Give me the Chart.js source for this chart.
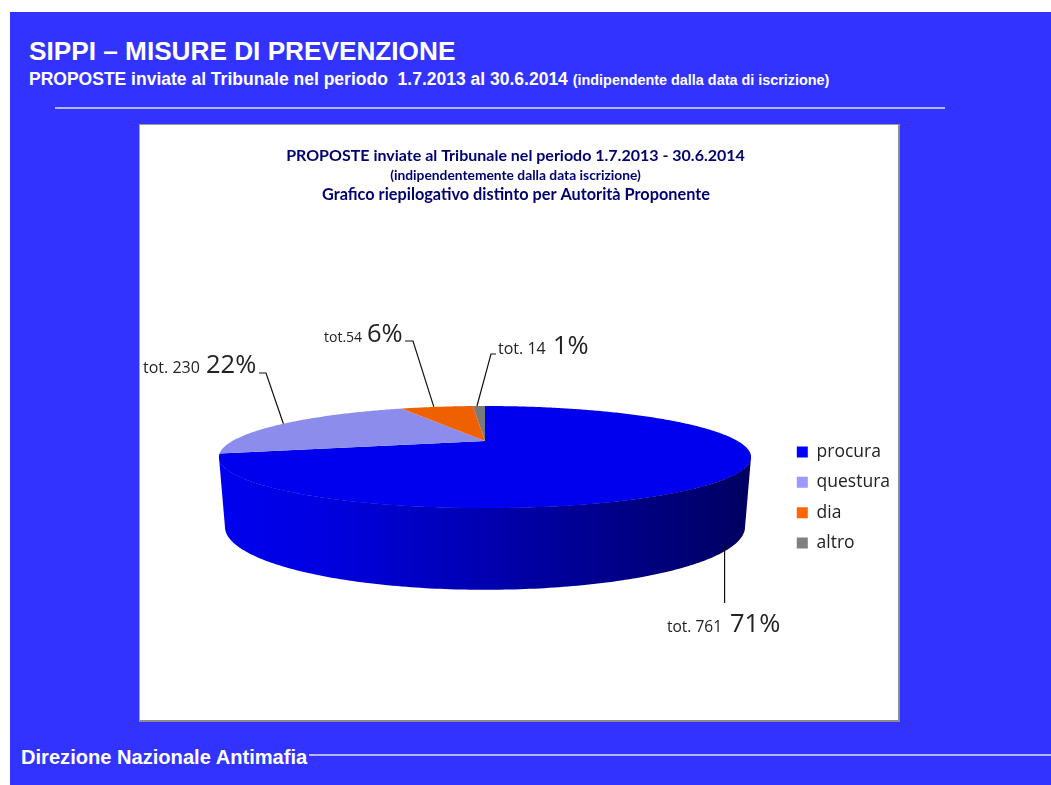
<!DOCTYPE html>
<html lang="it">
<head>
<meta charset="utf-8">
<title>SIPPI – Misure di prevenzione</title>
<script src="https://cdn.jsdelivr.net/npm/chart.js@4/dist/chart.umd.min.js"></script>
<style>
html,body{margin:0;padding:0;background:#fff;width:1051px;height:785px;overflow:hidden}
#slide{position:absolute;left:10px;top:12px;width:1041px;height:773px;background:#3333ff}
.t{position:absolute;color:#fff;font-family:"Liberation Sans",Arial,sans-serif;font-weight:bold;white-space:pre;line-height:1}
.rule{position:absolute;height:2px;background:#b4b4ff}
#panel{position:absolute;left:139px;top:124px;width:758px;height:595px;background:#fff;border:solid #8c8c8c;border-width:1px 2px 2px 1px;border-top-color:#999;border-left-color:#aaa}
canvas{position:absolute;left:0;top:0}
</style>
</head>
<body>
<div id="slide"></div>
<div class="t" style="left:29px;top:38px;font-size:26.2px">SIPPI – MISURE DI PREVENZIONE</div>
<div class="t" style="left:29px;top:71px;font-size:17.5px">PROPOSTE inviate al Tribunale nel periodo  1.7.2013 al 30.6.2014 <span style="font-size:14.4px">(indipendente dalla data di iscrizione)</span></div>
<div class="rule" style="left:55px;top:107px;width:890px"></div>
<div id="panel"></div>
<div class="t" style="left:21px;top:747px;font-size:20.1px">Direzione Nazionale Antimafia</div>
<div class="rule" style="left:309px;top:754px;width:742px"></div>
<canvas id="c" width="1051" height="785"></canvas>
<script>
const categories = ["procura", "questura", "dia", "altro"];
const shares = [71, 22, 6, 1];
const totals = ["tot. 761", "tot. 230", "tot.54", "tot. 14"];
const shareLabels = ["71%", "22%", "6%", "1%"];
const legendColors = ["#0000ff", "#9999ff", "#ff6600", "#808080"];
const faceColors = ["#0000ee", "#8c8cec", "#ee6000", "#7a7a7a"];
const titleLine1 = "PROPOSTE inviate al Tribunale nel periodo 1.7.2013 - 30.6.2014";
const titleLine2 = "(indipendentemente dalla data iscrizione)";
const titleLine3 = "Grafico riepilogativo distinto per Autorità Proponente";

// perspective of the pie (style only): top and bottom planes
const P = {cx:485, p:0.314, top:{R:252.6, K:46, y:441}, bot:{R:246.9, K:56.8, y:507}};
function proj(theta, plane){
  const u = Math.sin(theta), v = -Math.cos(theta), w = 1 - P.p*v;
  return [P.cx + plane.R*u/w, plane.y + plane.K*v/w];
}
// label placement (style only)
const labelStyle = [
  {elbow:null, endY:603, dx:-2, smallX:667, smallSize:15.5, bigX:730, base:632},
  {elbow:[266,373], end:[259,373], dx:0, smallX:143, smallSize:16, bigX:206, base:373},
  {elbow:[413,341], end:[405,341], dx:-3, smallX:324, smallSize:14, bigX:367, base:342},
  {elbow:[491,354], end:[496,354], dx:-2, smallX:498, smallSize:16, bigX:553, base:354}
];

const pie3d = {
  id:'pie3d',
  afterLayout(chart){
    const l = chart.legend;
    const w = l.right - l.left, h = l.bottom - l.top;
    l.left = 784; l.right = l.left + w; l.top = 430.5; l.bottom = l.top + h;
  },
  beforeDatasetsDraw(chart){
    const ctx = chart.ctx, arcs = chart.getDatasetMeta(0).data;
    const rightEdge = Math.acos(-P.p), leftEdge = 2*Math.PI - rightEdge;
    // side wall
    const g = ctx.createLinearGradient(219,0,751,0);
    g.addColorStop(0,'#0000ee'); g.addColorStop(0.2,'#0000e0');
    g.addColorStop(0.5,'#0000b0'); g.addColorStop(0.8,'#000080'); g.addColorStop(1,'#000060');
    ctx.save();
    ctx.beginPath();
    for(let i=0;i<=180;i++){const q=proj(rightEdge+(leftEdge-rightEdge)*i/180,P.top); i?ctx.lineTo(q[0],q[1]):ctx.moveTo(q[0],q[1]);}
    for(let i=180;i>=0;i--){const q=proj(rightEdge+(leftEdge-rightEdge)*i/180,P.bot); ctx.lineTo(q[0],q[1]);}
    ctx.closePath(); ctx.fillStyle=g; ctx.fill();
    // backing under the near rim so no pale seam shows
    ctx.beginPath();
    for(let i=0;i<=180;i++){const q=proj(rightEdge+(leftEdge-rightEdge)*i/180,P.top); i?ctx.lineTo(q[0],q[1]):ctx.moveTo(q[0],q[1]);}
    ctx.closePath(); ctx.fill();
    // top face: each slice from the angles of the library's arc elements
    arcs.forEach((a,i)=>{
      const s=a.startAngle+Math.PI/2, e=a.endAngle+Math.PI/2, n=Math.max(4,Math.ceil((e-s)*90));
      ctx.beginPath(); ctx.moveTo(P.cx,P.top.y);
      for(let k=0;k<=n;k++){const q=proj(s+(e-s)*k/n,P.top); ctx.lineTo(q[0],q[1]);}
      ctx.closePath(); ctx.fillStyle=faceColors[i]; ctx.fill();
    });
    // leaders and labels
    ctx.strokeStyle='#111'; ctx.lineWidth=1.2; ctx.textBaseline='alphabetic'; ctx.textAlign='left';
    arcs.forEach((a,i)=>{
      const mid=(a.startAngle+a.endAngle)/2+Math.PI/2, st=labelStyle[i];
      ctx.beginPath();
      if(st.elbow){
        const q=proj(mid,P.top);
        ctx.moveTo(q[0]+st.dx,q[1]); ctx.lineTo(st.elbow[0],st.elbow[1]); ctx.lineTo(st.end[0],st.end[1]);
      } else {
        const q=proj(mid,P.bot);
        ctx.moveTo(q[0]+st.dx,q[1]-3); ctx.lineTo(q[0]+st.dx,st.endY);
      }
      ctx.stroke();
      ctx.fillStyle='#222';
      ctx.font=st.smallSize+'px "Open Sans"'; ctx.fillText(totals[i],st.smallX,st.base);
      ctx.font='25.5px "Open Sans"'; ctx.fillText(shareLabels[i],st.bigX,st.base);
    });
    // third title line
    ctx.fillStyle='#000070'; ctx.textAlign='center';
    ctx.font='bold 16.3px Lato'; ctx.fillText(titleLine3,516,200);
    ctx.restore();
    return false;
  }
};

new Chart(document.getElementById('c'), {
  type:'pie',
  data:{labels:categories, datasets:[{data:shares, backgroundColor:legendColors, borderWidth:0}]},
  plugins:[pie3d],
  options:{
    responsive:false, animation:false,
    layout:{padding:{top:146,right:20,bottom:80,left:0}},
    plugins:{
      tooltip:{enabled:false},
      title:{display:true,text:titleLine1,color:'#000070',font:{family:'Lato',size:16,weight:'bold'},padding:{top:0,bottom:2}},
      subtitle:{display:true,text:titleLine2,color:'#000070',font:{family:'Lato',size:13.8,weight:'bold'},padding:{top:0,bottom:0}},
      legend:{position:'right',align:'start',labels:{boxWidth:11,boxHeight:11,padding:12.8,color:'#222',font:{family:'Open Sans',size:17.5}}}
    }
  }
});
</script>
</body>
</html>
